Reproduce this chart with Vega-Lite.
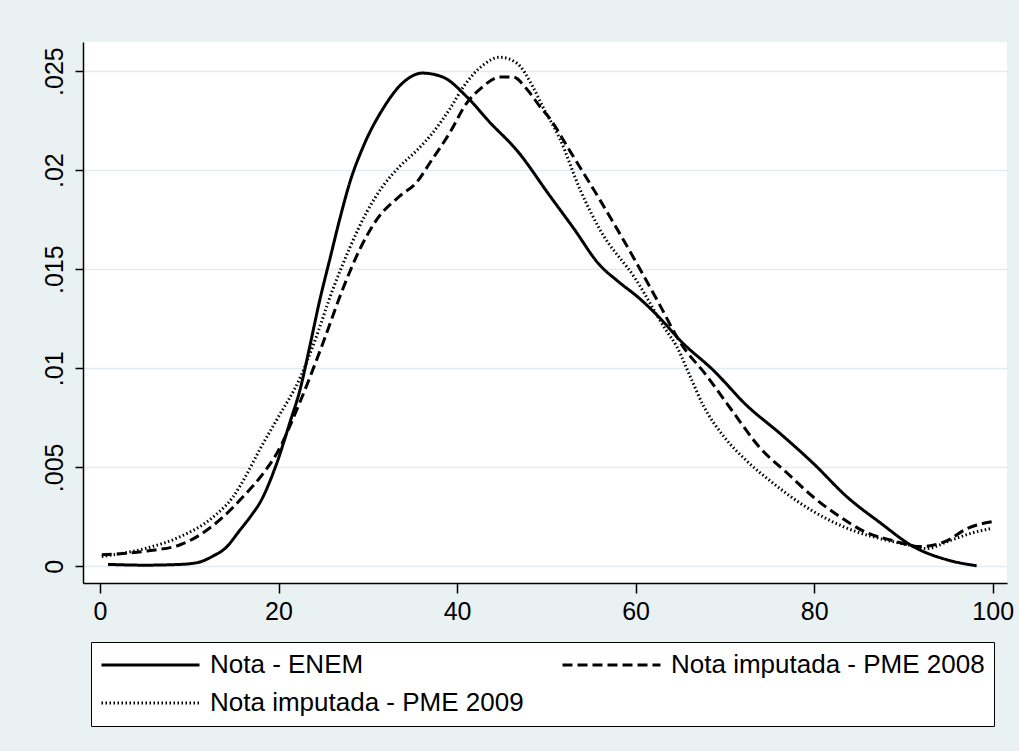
{
  "$schema": "https://vega.github.io/schema/vega-lite/v6.json",
  "width": 924,
  "height": 541,
  "autosize": {"type": "none"},
  "padding": {"left": 83, "top": 42, "right": 12, "bottom": 168},
  "background": "#e9f1f3",
  "config": {
    "view": {"fill": "white", "stroke": null},
    "font": "Liberation Sans",
    "axis": {
      "domainColor": "black", "domainWidth": 1.5,
      "tickColor": "black", "tickWidth": 1.5,
      "labelColor": "black", "labelFont": "Liberation Sans", "labelFontSize": 25,
      "gridColor": "#e2ecf0", "gridWidth": 1.5, "title": null
    }
  },
  "data": {"values": [
    {"s": "Nota - ENEM", "x": 0.9, "y": 0.0001},
    {"s": "Nota - ENEM", "x": 5, "y": 0.00006},
    {"s": "Nota - ENEM", "x": 9, "y": 0.0001},
    {"s": "Nota - ENEM", "x": 11, "y": 0.0002},
    {"s": "Nota - ENEM", "x": 12.7, "y": 0.00053},
    {"s": "Nota - ENEM", "x": 14, "y": 0.0009},
    {"s": "Nota - ENEM", "x": 15.7, "y": 0.00184},
    {"s": "Nota - ENEM", "x": 17, "y": 0.0026},
    {"s": "Nota - ENEM", "x": 17.9, "y": 0.0032},
    {"s": "Nota - ENEM", "x": 19.8, "y": 0.0052},
    {"s": "Nota - ENEM", "x": 21.3, "y": 0.0073},
    {"s": "Nota - ENEM", "x": 22.4, "y": 0.0089},
    {"s": "Nota - ENEM", "x": 23.5, "y": 0.0111},
    {"s": "Nota - ENEM", "x": 24.6, "y": 0.0134},
    {"s": "Nota - ENEM", "x": 25.8, "y": 0.0156},
    {"s": "Nota - ENEM", "x": 26.9, "y": 0.0176},
    {"s": "Nota - ENEM", "x": 28.0, "y": 0.0194},
    {"s": "Nota - ENEM", "x": 29.5, "y": 0.0212},
    {"s": "Nota - ENEM", "x": 31.7, "y": 0.0231},
    {"s": "Nota - ENEM", "x": 33.9, "y": 0.0244},
    {"s": "Nota - ENEM", "x": 36.1, "y": 0.0249},
    {"s": "Nota - ENEM", "x": 38.4, "y": 0.0247},
    {"s": "Nota - ENEM", "x": 41.1, "y": 0.0237},
    {"s": "Nota - ENEM", "x": 43.7, "y": 0.0224},
    {"s": "Nota - ENEM", "x": 46.7, "y": 0.0210},
    {"s": "Nota - ENEM", "x": 50.4, "y": 0.0187},
    {"s": "Nota - ENEM", "x": 53, "y": 0.0171},
    {"s": "Nota - ENEM", "x": 56, "y": 0.0152},
    {"s": "Nota - ENEM", "x": 58, "y": 0.0144},
    {"s": "Nota - ENEM", "x": 60.5, "y": 0.0135},
    {"s": "Nota - ENEM", "x": 63, "y": 0.0124},
    {"s": "Nota - ENEM", "x": 65, "y": 0.0114},
    {"s": "Nota - ENEM", "x": 68.7, "y": 0.0099},
    {"s": "Nota - ENEM", "x": 72.5, "y": 0.0081},
    {"s": "Nota - ENEM", "x": 76.2, "y": 0.0067},
    {"s": "Nota - ENEM", "x": 79.9, "y": 0.0052},
    {"s": "Nota - ENEM", "x": 83.7, "y": 0.0035},
    {"s": "Nota - ENEM", "x": 87.4, "y": 0.0022},
    {"s": "Nota - ENEM", "x": 91.1, "y": 0.0010},
    {"s": "Nota - ENEM", "x": 94.9, "y": 0.00033},
    {"s": "Nota - ENEM", "x": 98.2, "y": 0.00003},

    {"s": "Nota imputada - PME 2008", "x": 0.2, "y": 0.00058},
    {"s": "Nota imputada - PME 2008", "x": 5.3, "y": 0.00078},
    {"s": "Nota imputada - PME 2008", "x": 9.0, "y": 0.00109},
    {"s": "Nota imputada - PME 2008", "x": 11.2, "y": 0.00159},
    {"s": "Nota imputada - PME 2008", "x": 13.8, "y": 0.0025},
    {"s": "Nota imputada - PME 2008", "x": 16.0, "y": 0.0035},
    {"s": "Nota imputada - PME 2008", "x": 18.3, "y": 0.0047},
    {"s": "Nota imputada - PME 2008", "x": 19.8, "y": 0.0057},
    {"s": "Nota imputada - PME 2008", "x": 22.5, "y": 0.0084},
    {"s": "Nota imputada - PME 2008", "x": 25, "y": 0.0113},
    {"s": "Nota imputada - PME 2008", "x": 27.2, "y": 0.0140},
    {"s": "Nota imputada - PME 2008", "x": 29.1, "y": 0.0160},
    {"s": "Nota imputada - PME 2008", "x": 31.0, "y": 0.0175},
    {"s": "Nota imputada - PME 2008", "x": 33.6, "y": 0.0187},
    {"s": "Nota imputada - PME 2008", "x": 35.5, "y": 0.0194},
    {"s": "Nota imputada - PME 2008", "x": 37.0, "y": 0.0204},
    {"s": "Nota imputada - PME 2008", "x": 39.2, "y": 0.0219},
    {"s": "Nota imputada - PME 2008", "x": 41.1, "y": 0.0234},
    {"s": "Nota imputada - PME 2008", "x": 42.6, "y": 0.0241},
    {"s": "Nota imputada - PME 2008", "x": 44.8, "y": 0.0247},
    {"s": "Nota imputada - PME 2008", "x": 46.3, "y": 0.0247},
    {"s": "Nota imputada - PME 2008", "x": 47.8, "y": 0.0241},
    {"s": "Nota imputada - PME 2008", "x": 49.3, "y": 0.0232},
    {"s": "Nota imputada - PME 2008", "x": 50.4, "y": 0.0226},
    {"s": "Nota imputada - PME 2008", "x": 52.6, "y": 0.0210},
    {"s": "Nota imputada - PME 2008", "x": 56, "y": 0.0185},
    {"s": "Nota imputada - PME 2008", "x": 60, "y": 0.0154},
    {"s": "Nota imputada - PME 2008", "x": 62.7, "y": 0.0132},
    {"s": "Nota imputada - PME 2008", "x": 65.0, "y": 0.0113},
    {"s": "Nota imputada - PME 2008", "x": 68.0, "y": 0.0096},
    {"s": "Nota imputada - PME 2008", "x": 70.9, "y": 0.0078},
    {"s": "Nota imputada - PME 2008", "x": 73.9, "y": 0.0060},
    {"s": "Nota imputada - PME 2008", "x": 77.0, "y": 0.0047},
    {"s": "Nota imputada - PME 2008", "x": 79.9, "y": 0.0035},
    {"s": "Nota imputada - PME 2008", "x": 82.9, "y": 0.0025},
    {"s": "Nota imputada - PME 2008", "x": 85.9, "y": 0.0017},
    {"s": "Nota imputada - PME 2008", "x": 88.8, "y": 0.0013},
    {"s": "Nota imputada - PME 2008", "x": 91.9, "y": 0.0010},
    {"s": "Nota imputada - PME 2008", "x": 94.9, "y": 0.0013},
    {"s": "Nota imputada - PME 2008", "x": 97.1, "y": 0.0019},
    {"s": "Nota imputada - PME 2008", "x": 99.9, "y": 0.00225},

    {"s": "Nota imputada - PME 2009", "x": 0.2, "y": 0.0005},
    {"s": "Nota imputada - PME 2009", "x": 5.3, "y": 0.00093},
    {"s": "Nota imputada - PME 2009", "x": 9.0, "y": 0.0015},
    {"s": "Nota imputada - PME 2009", "x": 12.7, "y": 0.0025},
    {"s": "Nota imputada - PME 2009", "x": 14.9, "y": 0.0035},
    {"s": "Nota imputada - PME 2009", "x": 16.5, "y": 0.0047},
    {"s": "Nota imputada - PME 2009", "x": 17.9, "y": 0.0059},
    {"s": "Nota imputada - PME 2009", "x": 19.8, "y": 0.0074},
    {"s": "Nota imputada - PME 2009", "x": 22.5, "y": 0.0096},
    {"s": "Nota imputada - PME 2009", "x": 24, "y": 0.0113},
    {"s": "Nota imputada - PME 2009", "x": 26.1, "y": 0.0140},
    {"s": "Nota imputada - PME 2009", "x": 28.0, "y": 0.0161},
    {"s": "Nota imputada - PME 2009", "x": 29.9, "y": 0.0179},
    {"s": "Nota imputada - PME 2009", "x": 31.7, "y": 0.0192},
    {"s": "Nota imputada - PME 2009", "x": 33.6, "y": 0.0202},
    {"s": "Nota imputada - PME 2009", "x": 35.5, "y": 0.0210},
    {"s": "Nota imputada - PME 2009", "x": 37.3, "y": 0.0219},
    {"s": "Nota imputada - PME 2009", "x": 39.2, "y": 0.0231},
    {"s": "Nota imputada - PME 2009", "x": 40.7, "y": 0.0242},
    {"s": "Nota imputada - PME 2009", "x": 42.9, "y": 0.0253},
    {"s": "Nota imputada - PME 2009", "x": 44.8, "y": 0.0257},
    {"s": "Nota imputada - PME 2009", "x": 46.7, "y": 0.0254},
    {"s": "Nota imputada - PME 2009", "x": 48.5, "y": 0.0242},
    {"s": "Nota imputada - PME 2009", "x": 49.6, "y": 0.0232},
    {"s": "Nota imputada - PME 2009", "x": 51.5, "y": 0.0216},
    {"s": "Nota imputada - PME 2009", "x": 53.8, "y": 0.0190},
    {"s": "Nota imputada - PME 2009", "x": 56, "y": 0.0170},
    {"s": "Nota imputada - PME 2009", "x": 60, "y": 0.0145},
    {"s": "Nota imputada - PME 2009", "x": 63.3, "y": 0.0120},
    {"s": "Nota imputada - PME 2009", "x": 64.6, "y": 0.0111},
    {"s": "Nota imputada - PME 2009", "x": 66.1, "y": 0.0096},
    {"s": "Nota imputada - PME 2009", "x": 67.6, "y": 0.0081},
    {"s": "Nota imputada - PME 2009", "x": 69.8, "y": 0.0066},
    {"s": "Nota imputada - PME 2009", "x": 72.5, "y": 0.0053},
    {"s": "Nota imputada - PME 2009", "x": 75.4, "y": 0.0042},
    {"s": "Nota imputada - PME 2009", "x": 78.4, "y": 0.0032},
    {"s": "Nota imputada - PME 2009", "x": 81.4, "y": 0.0024},
    {"s": "Nota imputada - PME 2009", "x": 84.4, "y": 0.0018},
    {"s": "Nota imputada - PME 2009", "x": 87.4, "y": 0.0014},
    {"s": "Nota imputada - PME 2009", "x": 90.4, "y": 0.0011},
    {"s": "Nota imputada - PME 2009", "x": 92.6, "y": 0.0009},
    {"s": "Nota imputada - PME 2009", "x": 95.2, "y": 0.0013},
    {"s": "Nota imputada - PME 2009", "x": 97.8, "y": 0.0017},
    {"s": "Nota imputada - PME 2009", "x": 99.7, "y": 0.0019}
  ]},
  "mark": {"type": "line", "interpolate": "monotone", "clip": true},
  "encoding": {
    "x": {
      "field": "x", "type": "quantitative",
      "scale": {"domain": [-1.9, 101.6], "nice": false, "zero": false},
      "axis": {"values": [0, 20, 40, 60, 80, 100], "grid": false, "tickSize": 10, "labelPadding": 6, "labelFlush": false}
    },
    "y": {
      "field": "y", "type": "quantitative",
      "scale": {"domain": [-0.00084, 0.02647], "nice": false, "zero": false},
      "axis": {
        "values": [0, 0.005, 0.01, 0.015, 0.02, 0.025],
        "labelExpr": "replace(format(datum.value, '.3~f'), /^0\\./, '.')",
        "labelAngle": -90, "labelAlign": "center", "labelBaseline": "alphabetic",
        "tickSize": 8, "labelPadding": 13, "grid": true, "labelFlush": false
      }
    },
    "strokeDash": {
      "field": "s", "type": "nominal",
      "scale": {"range": [[1, 0], [10, 5], [1.5, 2.5]]},
      "legend": {
        "title": null, "orient": "none", "legendX": 8, "legendY": 600,
        "columns": 2, "direction": "horizontal", "columnPadding": 37,
        "symbolType": "stroke", "symbolSize": 9604, "symbolStrokeColor": "black", "symbolStrokeWidth": 3,
        "clipHeight": 28, "rowPadding": 10, "padding": 9,
        "labelFont": "Liberation Sans", "labelFontSize": 26, "labelColor": "black",
        "labelOffset": 9, "labelLimit": 500,
        "fillColor": "white", "strokeColor": "black", "cornerRadius": 0
      }
    },
    "strokeWidth": {
      "field": "s", "type": "nominal",
      "scale": {"range": [3, 3, 1.8]},
      "legend": null
    },
    "color": {"value": "black"}
  }
}
